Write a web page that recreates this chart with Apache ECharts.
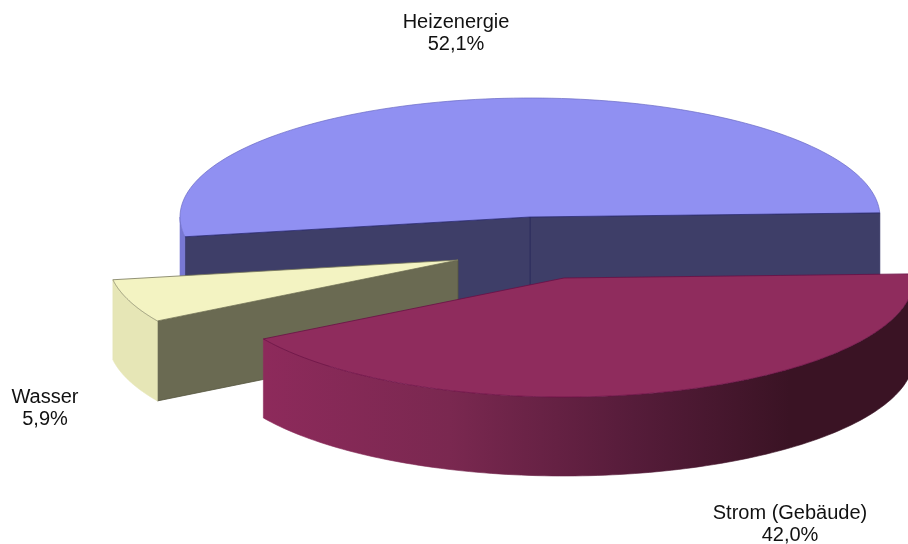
<!DOCTYPE html>
<html><head><meta charset="utf-8">
<style>html,body{margin:0;padding:0;background:#fff}#c{width:908px;height:544px}</style>
<script src="https://cdn.jsdelivr.net/npm/echarts@6/dist/echarts.min.js"></script>
</head><body><div id="c"></div>
<script>
const categories = ['Heizenergie', 'Wasser', 'Strom (Gebäude)'];
const values = [52.1, 5.9, 42.0];

// layout and style (not data)
const startAngle = 2, rx = 350, ry = 119;
const centers = [[530, 217], [458, 260], [564, 278]];
const depths = [85, 80, 79];
const labelPos = [[456, 33], [45, 408], [790, 524]];
const topFill = ['#9090F2', '#F3F3C2', '#8F2C5D'];
const edgeLine = ['#2E2E78', '#77775A', '#6A0F45'];
const arcLine = ['#6A6AC4', '#77775A', '#6A0F45'];
const faceFill = ['#3E3E68', '#6A6A52', '#6A1F45'];
const sum = values.reduce((a, b) => a + b, 0);
const rad = d => d * Math.PI / 180;
const chart = echarts.init(document.getElementById('c'), null, {renderer: 'canvas'});

function wallFill(i) {
  if (i === 2) return new echarts.graphic.LinearGradient(266, 0, 790, 0, [
    {offset: 0, color: '#8D2A5B'}, {offset: 0.35, color: '#7A2850'},
    {offset: 0.7, color: '#561C3A'}, {offset: 1, color: '#3A1324'}], true);
  if (i === 0) return '#7878D4';
  return '#E6E6B6';
}
function renderItem(params, api) {
  const i = params.dataIndex;
  let before = 0;
  for (let k = 0; k < i; k++) before += values[k];
  const s = startAngle + before / sum * 360;
  const e = s + api.value(0) / sum * 360;
  const [cx, cy] = centers[i], d = depths[i];
  const pt = (a, dz) => [cx + rx * Math.cos(rad(a)), cy - ry * Math.sin(rad(a)) + (dz || 0)];
  const arc = (a, b, dz) => { const o = [], n = 120; for (let k = 0; k <= n; k++) o.push(pt(a + (b - a) * k / n, dz)); return o; };
  const kids = [];
  const face = a => kids.push({type: 'polygon', shape: {points: [[cx, cy], pt(a), pt(a, d), [cx, cy + d]]},
    style: {fill: faceFill[i], stroke: i === 0 ? '#2C2C5E' : '#55553F', lineWidth: 0.8}});
  if (Math.cos(rad(s)) > 0) face(s);
  if (Math.cos(rad(e)) < 0) face(e);
  // outer wall: the part of the rim that faces the viewer
  const wa = Math.max(s, 180), wb = Math.min(e, 360);
  if (wb > wa) kids.push({type: 'polygon', shape: {points: arc(wa, wb, 0).concat(arc(wb, wa, d))},
    style: {fill: wallFill(i), stroke: wallFill(i), lineWidth: 0.6}});
  kids.push({type: 'polygon', shape: {points: [[cx, cy]].concat(arc(s, e, 0))}, style: {fill: topFill[i]}});
  kids.push({type: 'polyline', shape: {points: arc(s, e, 0)}, style: {fill: 'none', stroke: arcLine[i], lineWidth: 0.7}});
  kids.push({type: 'polyline', shape: {points: [pt(s), [cx, cy], pt(e)]}, style: {fill: 'none', stroke: edgeLine[i], lineWidth: 0.8}});
  const [lx, ly] = labelPos[i];
  kids.push({type: 'text', z2: 50, style: {x: lx, y: ly, text: categories[i] + '\n' + api.value(0).toFixed(1).replace('.', ',') + '%',
    fill: '#111', font: '20px "Liberation Sans", Arial, sans-serif', align: 'center', verticalAlign: 'middle', lineHeight: 22}});
  return {type: 'group', children: kids};
}
chart.setOption({
  animation: false,
  backgroundColor: '#fff',
  series: [{
    type: 'custom',
    coordinateSystem: 'none',
    renderItem,
    data: categories.map((n, i) => ({name: n, value: values[i]}))
  }]
});
</script></body></html>
